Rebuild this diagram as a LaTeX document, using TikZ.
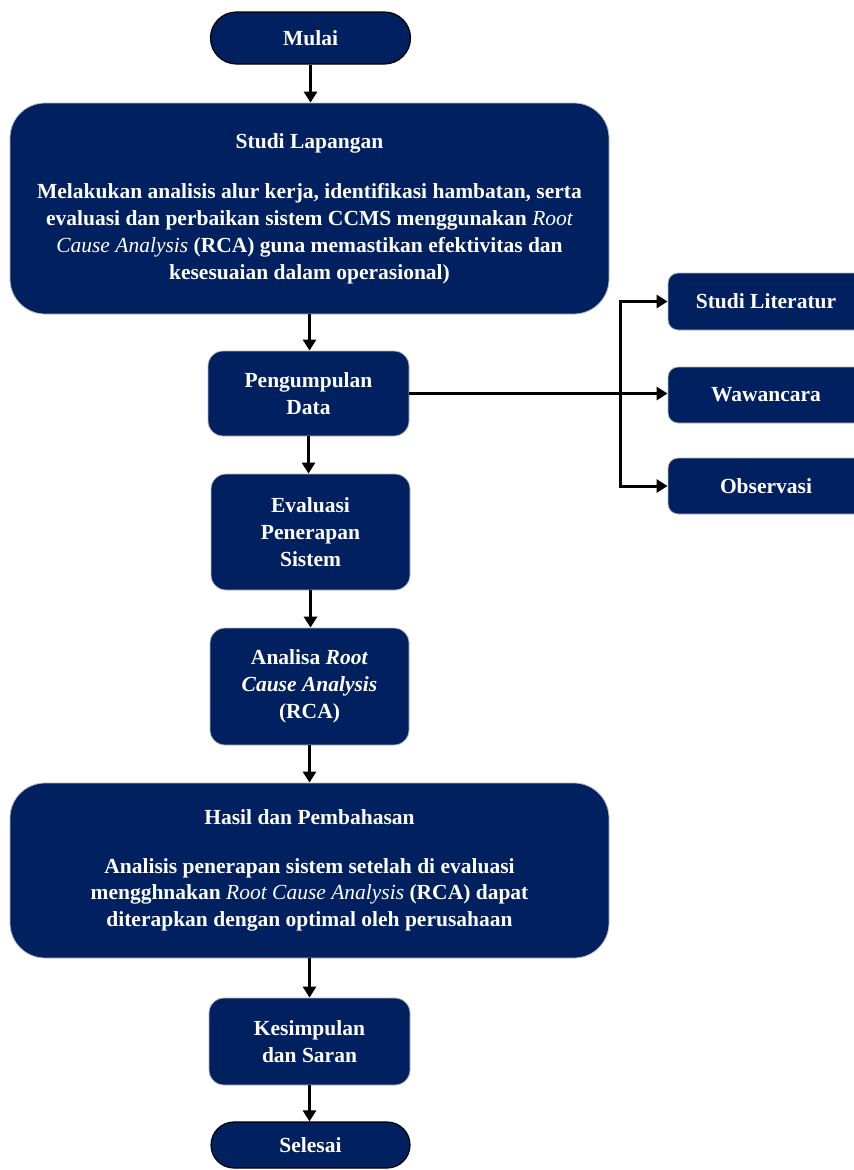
\documentclass[tikz,border=0pt]{standalone}
\usepackage{fontspec}
\setmainfont{Liberation Serif}
\usetikzlibrary{arrows.meta}
\definecolor{navy}{HTML}{002060}

\tikzset{
  x=1pt, y=-1pt,
  txt/.style={font=\bfseries\fontsize{21.5}{26.7}\selectfont},
  box/.style={draw=gray!55, line width=0.8pt, fill=navy, text=white, txt,
    align=center, inner sep=0pt, rounded corners=15pt},
  bigbox/.style={box, rounded corners=35pt},
  sidebox/.style={box, rounded corners=10pt, minimum width=196pt},
  terminal/.style={box, draw=black, line width=1.2pt},
  arr/.style={line width=3pt, -{Triangle[length=11pt,width=13pt]}},
}

\begin{document}
\begin{tikzpicture}
\useasboundingbox (0,0) rectangle (854,1170);

% main column
\node[terminal, rounded corners=26pt, minimum width=200pt, minimum height=52pt] (m) at (310.5,38) {Mulai};
\node[bigbox, minimum width=599pt, minimum height=211pt] (sl) at (309.5,208.5)
  {Studi Lapangan\\[24pt]
   Melakukan analisis alur kerja, identifikasi hambatan, serta\\
   evaluasi dan perbaikan sistem CCMS menggunakan {\mdseries\itshape Root}\\
   {\mdseries\itshape Cause Analysis} (RCA) guna memastikan efektivitas dan\\
   kesesuaian dalam operasional)};
\node[box, minimum width=201pt, minimum height=85pt] (pd) at (308.5,393.5) {Pengumpulan\\Data};
\node[box, minimum width=199pt, minimum height=116pt] (ev) at (310.5,532) {Evaluasi\\Penerapan\\Sistem};
\node[box, minimum width=199pt, minimum height=117pt] (an) at (309.5,686.5)
  {Analisa \textit{Root}\\\textit{Cause Analysis}\\(RCA)};
\node[bigbox, minimum width=599pt, minimum height=175pt] (hp) at (309.5,870.5)
  {Hasil dan Pembahasan\\[22pt]
   Analisis penerapan sistem setelah di evaluasi\\
   mengghnakan {\mdseries\itshape Root Cause Analysis} (RCA) dapat\\
   diterapkan dengan optimal oleh perusahaan};
\node[box, minimum width=201pt, minimum height=87pt] (ks) at (309.5,1041.5) {Kesimpulan\\dan Saran};
\node[terminal, rounded corners=23pt, minimum width=199pt, minimum height=46pt] (se) at (310.5,1145) {Selesai};

% data collection methods
\node[sidebox, minimum height=57pt] (lit) at (766,301.5) {Studi Literatur};
\node[sidebox, minimum height=56pt] (wa) at (766,395) {Wawancara};
\node[sidebox, minimum height=56pt] (ob) at (766,486) {Observasi};
\coordinate (br) at (620,395);

% flow
\foreach \a/\b in {m/sl, sl/pd, pd/ev, ev/an, an/hp, hp/ks, ks/se}
  \draw[arr] (\a.south) -- (\a.south |- \b.north);

\draw[arr] (pd.east) -- (pd.east -| wa.west);
\draw[line width=3pt, {Triangle[length=11pt,width=13pt]}-{Triangle[length=11pt,width=13pt]}]
  (lit.west) -| (br |- ob.west) -- (ob.west);
\end{tikzpicture}
\end{document}
